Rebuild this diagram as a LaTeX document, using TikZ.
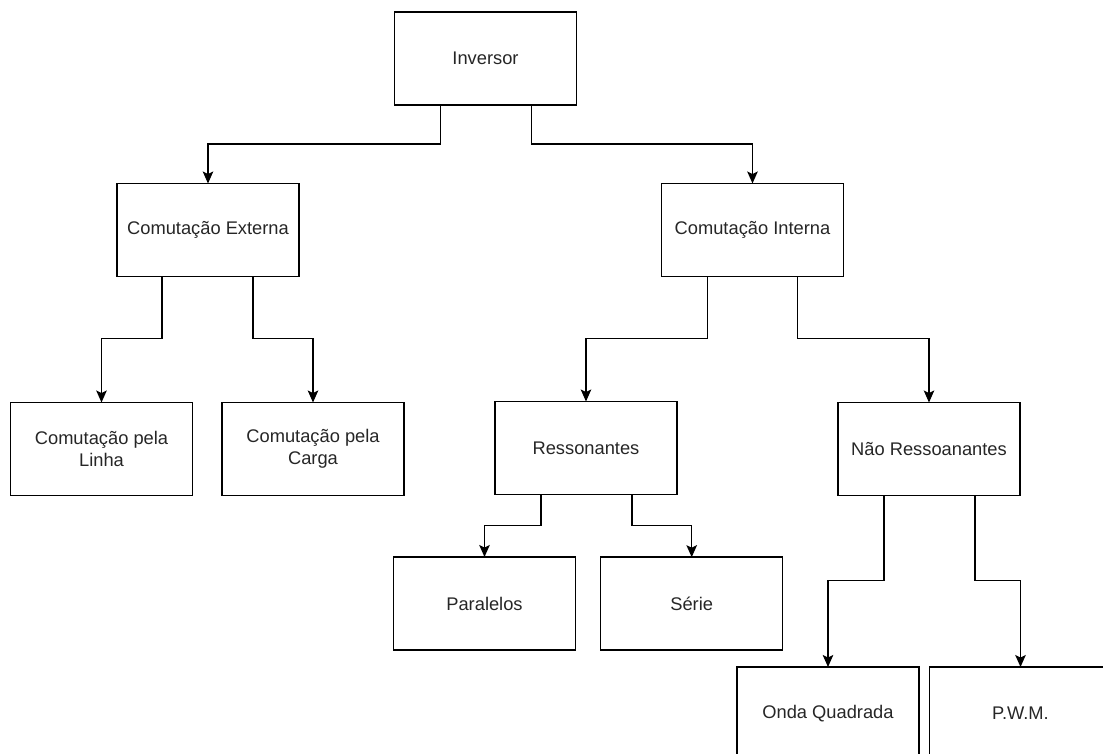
\documentclass[tikz,border=0pt]{standalone}
\usepackage{fontspec}
\setmainfont{Liberation Sans}
\usetikzlibrary{arrows.meta}
\begin{document}
\begin{tikzpicture}[x=1pt,y=-1pt,
  box/.style={draw=black, line width=1.5pt, minimum width=182pt, minimum height=93pt,
    inner sep=0pt, outer sep=0pt, align=center, font=\fontsize{18.3}{22}\selectfont, text=black!85},
  arr/.style={draw=black, line width=1.5pt, -{Stealth[length=12pt,width=10.5pt,inset=2.5pt]}}]
\useasboundingbox (0,0) rectangle (1103,753);
\node[box] (inv) at (485.5,58.5) {Inversor};
\node[box] (ext) at (208,230) {Comutação Externa};
\node[box] (int) at (752.5,230) {Comutação Interna};
\node[box] (linha) at (101.5,449) {Comutação pela\\Linha};
\node[box] (carga) at (313,449) {Comutação pela\\Carga};
\node[box] (res) at (586,448) {Ressonantes};
\node[box] (nres) at (929,449) {Não Ressoanantes};
\node[box] (par) at (484.5,603.5) {Paralelos};
\node[box] (serie) at (691.7,603.7) {Série};
\node[box] (onda) at (828,713.5) {Onda Quadrada};
\node[box] (pwm) at (1020.5,713.5) {P.W.M.};
\draw[arr] ([xshift=-45pt]inv.south) -- ++(0,39) -| (ext.north);
\draw[arr] ([xshift=46pt]inv.south) -- ++(0,39) -| (int.north);
\draw[arr] ([xshift=-46pt]ext.south) -- ++(0,62) -| (linha.north);
\draw[arr] ([xshift=45pt]ext.south) -- ++(0,62) -| (carga.north);
\draw[arr] ([xshift=-45pt]int.south) -- ++(0,62) -| (res.north);
\draw[arr] ([xshift=45pt]int.south) -- ++(0,62) -| (nres.north);
\draw[arr] ([xshift=-45pt]res.south) -- ++(0,31) -| (par.north);
\draw[arr] ([xshift=46pt]res.south) -- ++(0,31) -| (serie.north);
\draw[arr] ([xshift=-45pt]nres.south) -- ++(0,85) -| (onda.north);
\draw[arr] ([xshift=46pt]nres.south) -- ++(0,85) -| (pwm.north);
\end{tikzpicture}
\end{document}
